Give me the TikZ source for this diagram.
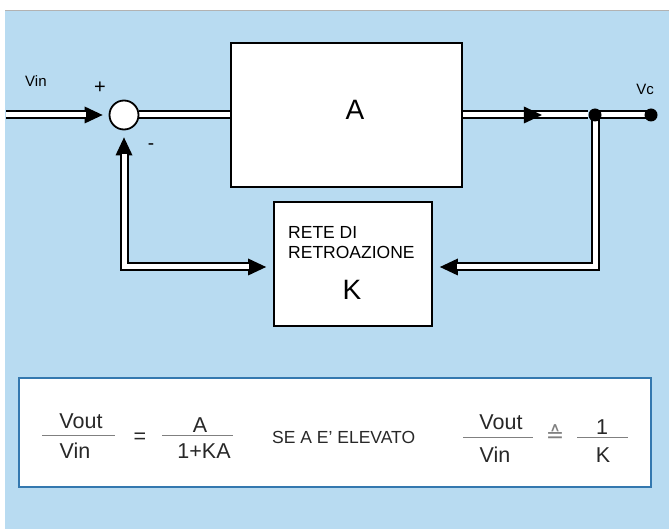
\documentclass[tikz,border=0pt]{standalone}
\usepackage{fontspec}
\setmainfont{Liberation Sans}
\newfontfamily\symfont{DejaVu Sans}
\usetikzlibrary{arrows.meta,decorations.markings}
\definecolor{bgblue}{RGB}{184,219,241}
\definecolor{frameblue}{RGB}{52,120,175}
\definecolor{txt}{RGB}{40,40,40}
\pgfdeclarelayer{back}
\pgfdeclarelayer{pipes}
\pgfsetlayers{back,pipes,main}
\tikzset{
  pipeout/.style={line width=9pt, black, line join=miter},
  pipein/.style={line width=5pt, white, line join=miter},
  bigtip/.tip={Triangle[length=18pt,width=17pt,line width=0pt]},
  block/.style={draw, line width=1.8pt, fill=white, inner sep=0pt},
  dot/.style={circle, fill=black, inner sep=0pt, minimum size=13pt},
  lbl/.style={font=\fontsize{15}{18}\selectfont, inner sep=0pt},
  big/.style={font=\fontsize{28}{30}\selectfont, inner sep=0pt},
  ftxt/.style={font=\fontsize{21.5}{24}\selectfont, inner sep=0pt, text=txt},
  fbar/.style={line width=1pt, gray},
}
\begin{document}
\begin{tikzpicture}[x=1pt,y=-1pt]
\useasboundingbox (0,0) rectangle (669,529);
\begin{pgfonlayer}{back}
  \fill[white] (0,0) rectangle (669,529);
  \fill[bgblue] (5,10) rectangle (669,529);
  \draw[gray!60, line width=0.8pt] (5,10) -- (669,10);
\end{pgfonlayer}

% blocks
\node[block, minimum width=231pt, minimum height=144pt] (A) at (346.5,115) {};
\node[big] (Alabel) at (355,110) {A};
\node[block, minimum width=158pt, minimum height=124pt] (K) at (353,264) {};
\node[anchor=west, align=left, font=\fontsize{17.5}{20}\selectfont, inner sep=0pt] (Ktext) at (288,243) {RETE DI\\RETROAZIONE};
\node[big] (Klabel) at (352,290) {K};
\node[circle, draw, line width=1.8pt, fill=white, minimum size=29pt, inner sep=0pt] (sum) at (124,115) {};
\node[dot] (j) at (595,115) {};
\node[dot] (out) at (651,115) {};
\coordinate (inL) at (6,115);

% labels
\node[lbl, anchor=west] (vin) at (25,81) {Vin};
\node[lbl, font=\fontsize{20}{22}\selectfont] (plus) at (100,88) {+};
\node[lbl, font=\fontsize{19}{22}\selectfont] (minus) at (151,147) {-};
\node[lbl] (vc) at (645,89) {Vc};

% pipes
\begin{pgfonlayer}{pipes}
  \draw[pipeout, -{bigtip}, shorten >=6pt] (inL) -- (sum);
  \draw[pipeout] (sum) -- (A);
  \draw[pipeout] (A) -- (j);
  \draw[pipeout] (j.center) -- (out.center);
  \draw[pipeout, -{bigtip}, shorten >=7pt] (j.center) |- ([yshift=-3pt]K.east);
  \draw[pipeout, {bigtip}-{bigtip}, shorten <=7pt, shorten >=7pt] (sum) |- ([yshift=-3pt]K.west);

  \draw[pipein, shorten >=23pt] (inL) -- (sum);
  \draw[pipein] (sum) -- (A);
  \draw[pipein] (j.center) -- (out.center);
  \draw[pipein, shorten >=24pt] (j.center) |- ([yshift=-3pt]K.east);
  \draw[pipein, shorten <=24pt, shorten >=24pt] (sum) |- ([yshift=-3pt]K.west);
  \draw[pipein, postaction={decorate, decoration={markings, mark=at position 0.63 with {\arrow[black]{bigtip}}}}] (A) -- (j);
\end{pgfonlayer}

% formula box
\node[draw=frameblue, line width=2pt, fill=white, minimum width=632pt, minimum height=109pt, inner sep=0pt] (fbox) at (335,432.5) {};
\node[ftxt] (vout1) at (81,421) {Vout};
\node[ftxt] (vin1) at (75,451) {Vin};
\draw[fbar] (42,435) -- (115,435);
\node[ftxt] (eq1) at (140,438) {=};
\node[ftxt] (num1) at (200,425) {A};
\node[ftxt] (den1) at (204,451) {1+KA};
\draw[fbar] (162,435) -- (233,435);
\node[font=\fontsize{17.5}{20}\selectfont, inner sep=0pt, text=txt, anchor=west] (se) at (272,437) {SE A E' ELEVATO};
\node[ftxt] (vout2) at (501,422) {Vout};
\node[ftxt] (vin2) at (495,455) {Vin};
\draw[fbar] (463,437) -- (533,437);
\node[font=\symfont\fontsize{22}{24}\selectfont, inner sep=0pt, text=gray] (eq2) at (555,434) {≙};
\node[ftxt] (num2) at (602,427) {1};
\node[ftxt] (den2) at (603,455) {K};
\draw[fbar] (577,437) -- (628,437);
\end{tikzpicture}
\end{document}
